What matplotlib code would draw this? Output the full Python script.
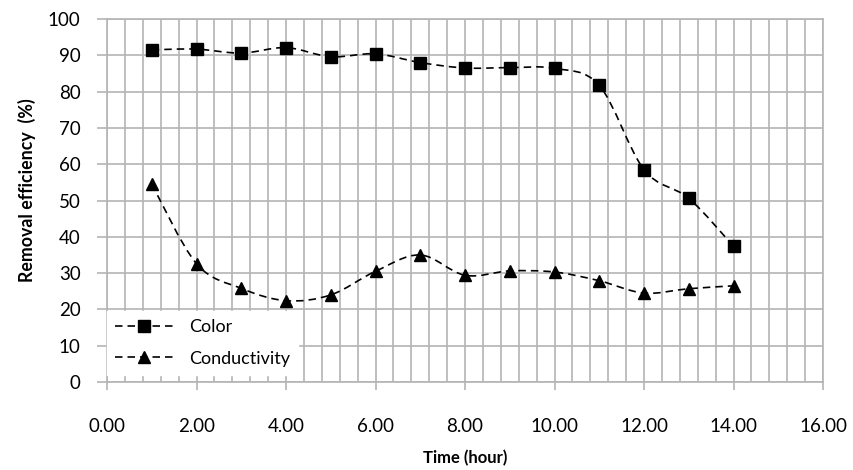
import numpy as np
import matplotlib.pyplot as plt
from matplotlib.path import Path
from matplotlib.patches import PathPatch
from matplotlib.lines import Line2D
from matplotlib.ticker import MultipleLocator, FormatStrFormatter

plt.rcParams['font.family'] = ['Lato', 'DejaVu Sans']

hours = [1, 2, 3, 4, 5, 6, 7, 8, 9, 10, 11, 12, 13, 14]
color_eff = [91.5, 91.7, 90.6, 92.1, 89.6, 90.4, 88.0, 86.5, 86.6, 86.4, 81.7, 58.5, 50.6, 37.4]
cond_eff = [54.5, 32.6, 25.8, 22.4, 24.0, 30.5, 35.0, 29.4, 30.6, 30.3, 27.9, 24.5, 25.7, 26.5]
series_names = ['Color', 'Conductivity']


def smooth_path(x, y):
    # excel-like smoothed line through the points (cubic bezier)
    x = np.asarray(x, float)
    y = np.asarray(y, float)
    n = len(x)
    verts = [(x[0], y[0])]
    codes = [Path.MOVETO]
    for i in range(n - 1):
        a = i - 1 if i > 0 else i
        b = i + 2 if i + 2 < n else i + 1
        c1 = (x[i] + (x[i + 1] - x[a]) / 6, y[i] + (y[i + 1] - y[a]) / 6)
        c2 = (x[i + 1] - (x[b] - x[i]) / 6, y[i + 1] - (y[b] - y[i]) / 6)
        verts += [c1, c2, (x[i + 1], y[i + 1])]
        codes += [Path.CURVE4] * 3
    return Path(verts, codes)


fig = plt.figure(figsize=(8.54, 4.70), dpi=100)
ax = fig.add_axes([0.1253, 0.1872, 0.8384, 0.7724])

dash = (0, (4.5, 3))
for yv, mk, ms in [(color_eff, 's', 9), (cond_eff, '^', 9)]:
    ax.add_patch(PathPatch(smooth_path(hours, yv), fill=False, edgecolor='black',
                           linewidth=1.2, linestyle=dash, zorder=3))
    ax.plot(hours, yv, ls='none', marker=mk, markersize=ms, color='black', zorder=4)

ax.set_xlim(0, 16)
ax.set_ylim(0, 100)
ax.xaxis.set_major_locator(MultipleLocator(2))
ax.xaxis.set_minor_locator(MultipleLocator(0.4))
ax.yaxis.set_major_locator(MultipleLocator(10))
ax.xaxis.set_major_formatter(FormatStrFormatter('%.2f'))

gc = '#b4b4b4'
ax.grid(True, which='both', axis='x', color=gc, linewidth=1.2)
ax.grid(True, which='major', axis='y', color=gc, linewidth=1.2)
ax.set_axisbelow(True)
for s in ax.spines.values():
    s.set_color(gc)
    s.set_linewidth(1.2)
ax.tick_params(axis='x', which='major', length=6, color=gc, width=1.2, pad=20, labelsize=13.5)
ax.tick_params(axis='x', which='minor', length=0)
ax.tick_params(axis='y', length=7, color=gc, width=1.2, pad=12, labelsize=13.5)

ax.set_ylabel('Removal efficiency  (%)', fontsize=12.8, fontweight='bold', va='center')
ax.yaxis.set_label_coords(-0.112, 0.529)
ax.set_xlabel('Time (hour)', fontsize=12, fontweight='bold', va='center')
ax.xaxis.set_label_coords(0.5, -0.209)

handles = [Line2D([], [], color='black', ls=dash, lw=1.2, marker='s', markersize=9),
           Line2D([], [], color='black', ls=dash, lw=1.2, marker='^', markersize=9)]
leg = ax.legend(handles, series_names, loc='lower left', bbox_to_anchor=(0.0, 0.02),
                frameon=True, fancybox=False, framealpha=1, facecolor='white',
                edgecolor='white', fontsize=13, handlelength=3.2, borderaxespad=0,
                labelspacing=0.85, borderpad=0.45, handletextpad=0.9)
leg.set_zorder(5)

fig.savefig('out.png', dpi=100)
